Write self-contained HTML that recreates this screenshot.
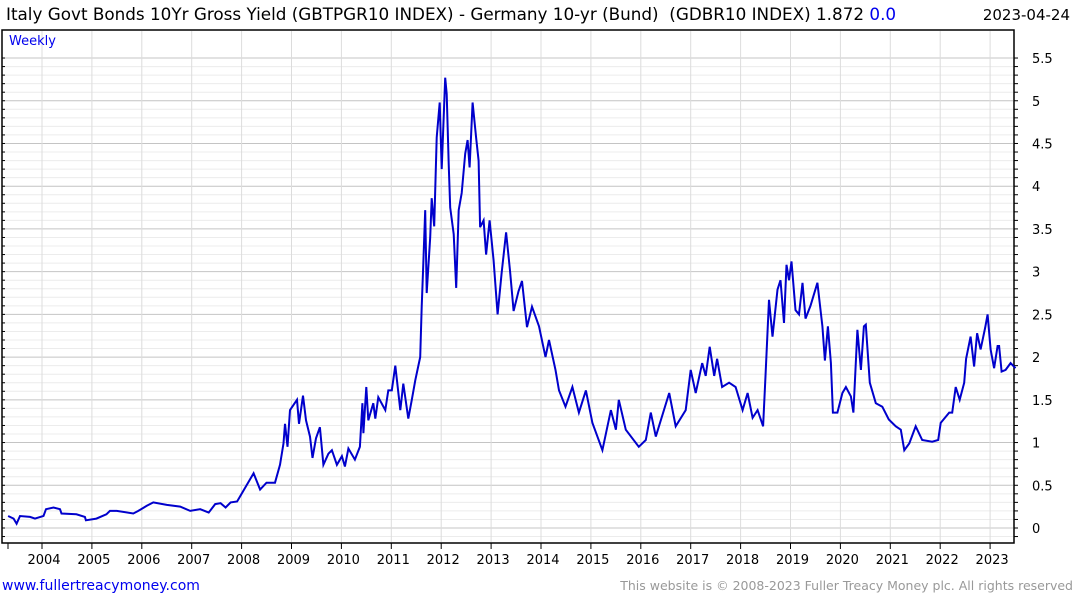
<!DOCTYPE html>
<html><head><meta charset="utf-8"><style>
body{margin:0;background:#fff;font-family:"Liberation Sans",sans-serif;}
svg text{font-family:"DejaVu Sans","Liberation Sans",sans-serif;}
</style></head><body>
<svg id="c" width="1075" height="600">
<text x="6" y="20" font-size="16.8" fill="#000" style="white-space:pre" xml:space="preserve">Italy Govt Bonds 10Yr Gross Yield (GBTPGR10 INDEX) - Germany 10-yr (Bund)  (GDBR10 INDEX) 1.872 <tspan fill="#0000ee">0.0</tspan></text>
<text x="1070" y="20" font-size="15" text-anchor="end" fill="#000">2023-04-24</text>
<g id="grid"></g>
<rect x="2" y="30" width="1012" height="513" fill="none" stroke="#000" stroke-width="1.5"/>
<text x="9" y="45" font-size="13" fill="#0000ee">Weekly</text>
<g id="axes"></g>
<path id="line" fill="none" stroke="#0000cc" stroke-width="2"/>
<text x="2" y="590" font-size="14" fill="#0000ee">www.fullertreacymoney.com</text>
<text x="1073" y="590" font-size="12.5" text-anchor="end" fill="#999">This website is © 2008-2023 Fuller Treacy Money plc. All rights reserved</text>
</svg>
<script>
const dates=[2003.32,2003.43,2003.49,2003.56,2003.76,2003.86,2004.03,2004.08,2004.23,2004.36,2004.39,2004.69,2004.86,2004.88,2005.09,2005.29,2005.36,2005.5,2005.83,2005.93,2006.1,2006.23,2006.5,2006.77,2006.97,2007.17,2007.34,2007.47,2007.58,2007.68,2007.78,2007.91,
2007.97,2008.24,2008.37,2008.5,2008.67,2008.77,2008.84,2008.87,2008.92,2008.97,2009.11,2009.15,2009.23,2009.29,2009.37,2009.42,2009.49,2009.57,2009.64,2009.74,2009.81,2009.91,2010.01,2010.07,2010.14,2010.27,2010.37,2010.42,2010.44,2010.5,2010.54,2010.64,2010.68,2010.74,2010.88,2010.94,2011.01,2011.08,2011.18,2011.24,2011.34,2011.41,2011.48,2011.54,
2011.58,2011.61,2011.64,2011.68,2011.71,2011.78,2011.81,2011.86,2011.91,2011.97,2012.01,2012.08,2012.11,2012.15,2012.18,2012.25,2012.30,2012.35,2012.41,2012.48,2012.53,2012.57,2012.63,2012.70,2012.75,2012.78,2012.85,2012.90,2012.97,2013.05,2013.13,2013.21,2013.30,2013.38,2013.45,2013.55,2013.62,2013.72,2013.82,
2013.96,2014.09,2014.16,2014.29,2014.36,2014.49,2014.63,2014.76,2014.90,2015.03,2015.23,2015.40,2015.50,2015.56,2015.70,2015.96,2016.10,2016.20,2016.30,2016.57,2016.70,2016.90,2017.00,2017.10,2017.23,2017.30,2017.38,2017.47,2017.53,2017.63,2017.77,2017.90,2018.04,2018.14,2018.24,2018.34,2018.45,2018.50,2018.57,2018.64,2018.74,2018.80,2018.87,2018.92,2018.97,2019.02,2019.10,2019.17,2019.24,2019.30,2019.40,2019.54,2019.64,2019.69,2019.75,2019.81,2019.85,2019.94,2020.04,2020.11,2020.21,2020.26,2020.34,2020.41,2020.47,2020.51,2020.59,2020.71,2020.84,2020.97,2021.11,2021.21,2021.28,2021.38,2021.51,2021.64,2021.84,2021.96,2022.01,2022.18,2022.24,2022.31,2022.39,2022.48,2022.52,2022.61,2022.68,2022.74,2022.81,2022.90,2022.95,2023.01,2023.08,2023.15,2023.18,2023.23,2023.31,2023.41,2023.51];
const values=[0.14,0.11,0.05,0.14,0.13,0.11,0.14,0.22,0.24,0.22,0.17,0.16,0.13,0.09,0.11,0.16,0.2,0.2,0.17,0.2,0.26,0.3,0.27,0.25,0.2,0.22,0.18,0.28,0.29,0.24,0.3,0.31,
0.37,0.64,0.45,0.53,0.53,0.74,0.99,1.22,0.95,1.38,1.5,1.22,1.55,1.26,1.07,0.82,1.05,1.18,0.74,0.87,0.91,0.74,0.84,0.72,0.93,0.8,0.95,1.46,1.11,1.65,1.26,1.46,1.28,1.53,1.38,1.61,1.61,1.9,1.38,1.69,1.28,1.5,1.73,1.89,
2.0,2.59,3.06,3.72,2.75,3.4,3.86,3.53,4.57,4.98,4.2,5.27,5.08,4.26,3.75,3.44,2.81,3.72,3.92,4.38,4.54,4.22,4.98,4.57,4.3,3.52,3.6,3.2,3.6,3.13,2.5,2.98,3.46,3.0,2.54,2.77,2.89,2.35,2.59,
2.36,2.0,2.2,1.85,1.61,1.42,1.65,1.35,1.61,1.23,0.91,1.38,1.15,1.5,1.15,0.95,1.03,1.35,1.07,1.58,1.19,1.38,1.85,1.58,1.93,1.78,2.12,1.78,1.98,1.65,1.7,1.65,1.38,1.58,1.29,1.38,1.19,1.78,2.67,2.24,2.79,2.9,2.4,3.08,2.9,3.12,2.55,2.5,2.87,2.45,2.6,2.87,2.36,1.96,2.36,1.93,1.35,1.35,1.58,1.65,1.54,1.35,2.32,1.85,2.36,2.38,1.7,1.46,1.42,1.27,1.19,1.15,0.91,0.99,1.19,1.03,1.01,1.03,1.23,1.35,1.35,1.65,1.5,1.7,1.98,2.24,1.89,2.28,2.09,2.34,2.5,2.09,1.87,2.13,2.13,1.83,1.85,1.93,1.87];
const yTicks=[0,0.5,1,1.5,2,2.5,3,3.5,4,4.5,5,5.5];
const yearLabels=["2004","2005","2006","2007","2008","2009","2010","2011","2012","2013","2014","2015","2016","2017","2018","2019","2020","2021","2022","2023"];
const NS="http://www.w3.org/2000/svg";
function xS(t){return 42+(t-2004)*49.9;}
function yS(v){return 528-v*85.45;}
function mk(tag,attrs,parent){const e=document.createElementNS(NS,tag);for(const k in attrs)e.setAttribute(k,attrs[k]);parent.appendChild(e);return e;}
const grid=document.getElementById('grid'),axes=document.getElementById('axes');
for(let i=-2;i<=55;i++){const v=i/10;const y=yS(v);if(y<31||y>542)continue;
 const l=mk('line',{x1:3,x2:1013,y1:y,y2:y,stroke:(i%5===0)?'#c4c4c4':'#ececec','stroke-width':1},grid);
 
 
 const tk=mk('line',{x1:1014,x2:1018,y1:y,y2:y,stroke:'#000'},axes);
 
 
 const tk2=mk('line',{x1:2,x2:5,y1:y,y2:y,stroke:'#000'},axes);
 
 }
yTicks.forEach(v=>{const t=mk('text',{x:1032,y:yS(v)+5,'font-size':13,fill:'#000'},axes);t.textContent=String(v);
 
 });
yearLabels.forEach(s=>{const x=xS(+s);
 const g=mk('line',{x1:x,x2:x,y1:31,y2:542,stroke:'#dcdcdc','stroke-width':1},grid);
 
 
 const tk=mk('line',{x1:x,x2:x,y1:543,y2:549,stroke:'#000'},axes);
 
 
 const t=mk('text',{x:x+2,y:564,'font-size':13,'text-anchor':'middle',fill:'#000'},axes);t.textContent=s;
 
 });
const ft=mk('line',{x1:8,x2:8,y1:543,y2:549,stroke:'#000'},axes);


let d='';dates.forEach((t,i)=>{d+=(i?'L':'M')+xS(t).toFixed(1)+','+yS(values[i]).toFixed(1);});
document.getElementById('line').setAttribute('d',d);
</script>
</body></html>
